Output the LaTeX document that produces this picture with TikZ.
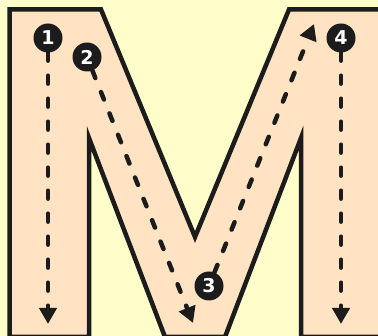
\documentclass[tikz,border=0pt]{standalone}
\usepackage{fontspec}
\setsansfont{DejaVu Sans}
\usetikzlibrary{arrows.meta}
\definecolor{pageYellow}{HTML}{FFFDC9}
\definecolor{letterPeach}{HTML}{FFE3C3}
\definecolor{inkBlack}{HTML}{1C1C1C}

\begin{document}
\begin{tikzpicture}[
		x=1pt, y=-1pt,
		letter/.style={
			draw=inkBlack,
			fill=letterPeach,
			line width=4.5pt,
			line join=miter
		},
		badge/.style={
			circle,
			fill=inkBlack,
			text=white,
			inner sep=0pt,
			minimum size=29pt,
			font=\sffamily\bfseries\fontsize{19}{19}\selectfont
		},
		trace/.style={-{Triangle[length=16pt, width=17pt]}, draw=inkBlack, line width=4.5pt, line cap=round, dash pattern=on 8pt off 15pt}
		]
		
		\fill[pageYellow] (0,0) rectangle (378,336);
		\useasboundingbox (0,0) rectangle (378,336);
		
		\begin{scope}
			\clip (0,0) rectangle (378,336);
			\draw[letter] (9.5,9.5) -- (101,9.5) -- (195,237) -- (289,9.5) -- (380.5,9.5) -- (380.5,337) -- (301,337) -- (301,138) -- (225,337) -- (165,337) -- (89,138) -- (89,337) -- (9.5,337) -- cycle;
		\end{scope}
		
		\node[badge] (one) at (48,38) {1};
		\node[badge] (two) at (87,57) {2};
		\node[badge] (three) at (209,286) {3};
		\node[badge] (four) at (341,38) {4};
		
		\coordinate (oneEnd) at (48,324);
		\coordinate (twoEnd) at (193,323);
		\coordinate (threeEnd) at (314,24);
		\coordinate (fourEnd) at (341,324);
		
		\draw[trace] (one) -- (oneEnd);
		\draw[trace] (two) -- (twoEnd);
		\draw[trace] (three) -- (threeEnd);
		\draw[trace] (four) -- (fourEnd);
		
	\end{tikzpicture}
\end{document}
